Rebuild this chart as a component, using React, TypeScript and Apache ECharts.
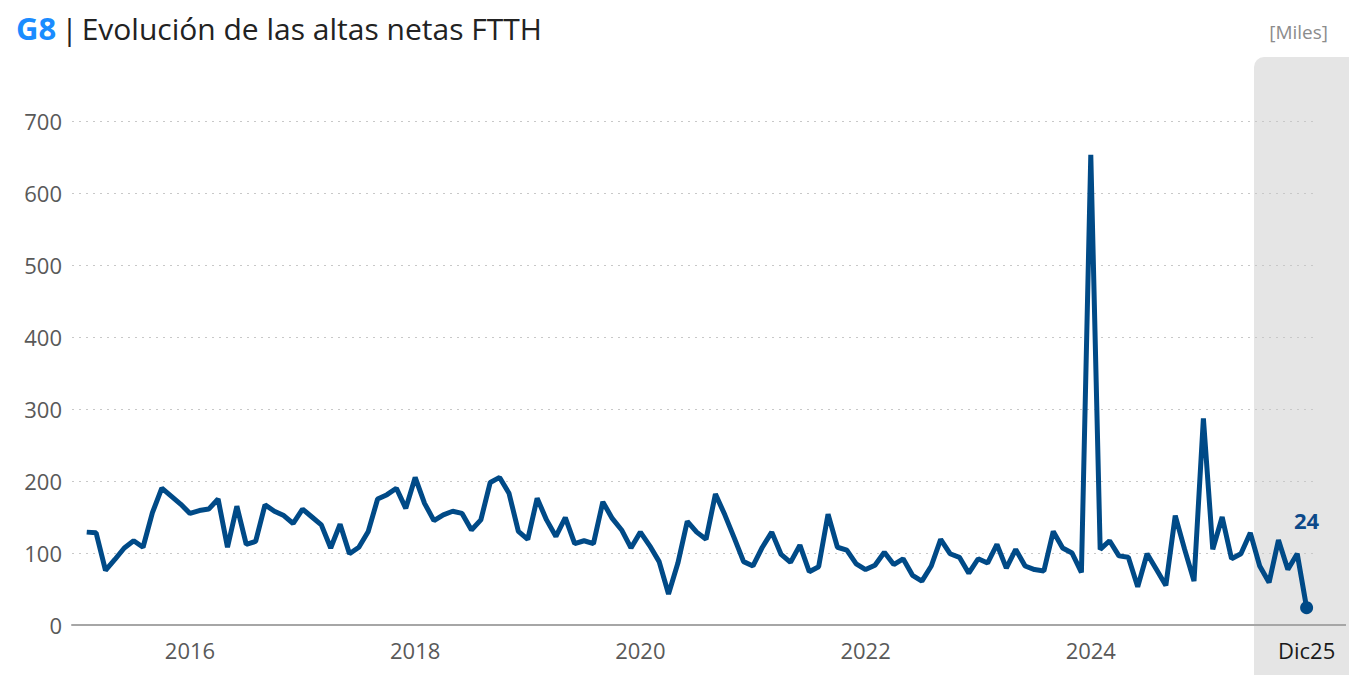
import React, { useEffect, useRef } from "react";
import * as echarts from "echarts";

// Monthly net adds FTTH (thousands), Feb 2015 .. Dec 2025
const startYear = 2015;
const startMonth = 2; // February
const values: number[] = [
  129, 128, 76, 91, 107, 117, 108, 156, 190, 179, 168, 155, 159, 161, 175, 108, 165, 112, 116, 167, 158, 152, 141, 161, 150, 139, 107,
  140, 99, 108, 130, 175, 181, 190, 162, 205, 169, 145, 153, 158, 155, 132, 146, 198, 205, 183, 130, 119, 176, 146, 123,
  149, 113, 117, 113, 171, 148, 132, 107, 129, 110, 88, 43, 86, 144, 129, 119, 182, 153, 121, 88, 82, 108, 129, 98, 87,
  111, 74, 81, 154, 108, 104, 85, 77, 83, 101, 84, 92, 69, 61, 82, 119, 99, 94, 72, 92, 86, 112, 79, 105, 82, 77,
  75, 130, 107, 100, 73, 653, 105, 117, 96, 94, 53, 99, 77, 55, 152, 105, 61, 287, 105, 150, 92, 99, 128, 82, 59, 118, 77, 99, 24,
];
const xTickLabels = ["2016", "2018", "2020", "2022", "2024", "Dic25"];
const yTicks = [0, 100, 200, 300, 400, 500, 600, 700];

function monthIndexOfLabel(label: string): number {
  if (label.startsWith("Dic")) {
    const yr = 2000 + parseInt(label.slice(3), 10);
    return (yr - startYear) * 12 + (12 - startMonth);
  }
  const yr = parseInt(label, 10);
  return (yr - startYear) * 12 + (1 - startMonth);
}

export default function App() {
  const ref = useRef<HTMLDivElement>(null);
  useEffect(() => {
    if (!ref.current) return;
    const chart = echarts.init(ref.current, undefined, { renderer: "svg" });
    const lineData = values.map((v, i) => [i, v]);
    const lastIdx = values.length - 1;
    const tickIdx = xTickLabels.map(monthIndexOfLabel);
    const labelByIdx: Record<number, string> = {};
    tickIdx.forEach((t, k) => (labelByIdx[t] = xTickLabels[k]));

    chart.setOption({
      animation: false,
      backgroundColor: "#ffffff",
      textStyle: { fontFamily: "'Open Sans', 'Noto Sans', sans-serif" },
      title: [
        {
          left: 11,
          top: 3,
          text: "{g|G8}{b||}{t|Evolución de las altas netas FTTH}",
          textStyle: {
            fontWeight: "normal",
            rich: {
              g: { fontSize: 31, fontWeight: "bold", color: "#1a8cff", fontFamily: "'Open Sans', sans-serif", lineHeight: 40 },
              b: { fontSize: 30, fontWeight: "normal", color: "#222222", fontFamily: "'Open Sans', sans-serif", lineHeight: 40, padding: [0, 4, 0, 5] },
              t: { fontSize: 30, fontWeight: "normal", color: "#222222", fontFamily: "'Open Sans', sans-serif", lineHeight: 40 },
            },
          },
        },
        {
          right: 16,
          top: 17,
          text: "[Miles]",
          textStyle: { fontSize: 19, fontWeight: "normal", color: "#8c8c8c", fontFamily: "'Open Sans', sans-serif" },
        },
      ],
      graphic: [
        {
          type: "rect",
          z: -10,
          shape: { x: 1254, y: 57, width: 100, height: 630, r: [10, 0, 0, 0] },
          style: { fill: "#e5e5e5" },
        },
        {
          type: "line",
          z: 5,
          shape: { x1: 1316, y1: 625, x2: 1346, y2: 625 },
          style: { stroke: "#a6a6a6", lineWidth: 2 },
        },
      ],
      grid: { left: 72, right: 33, top: 121, bottom: 50, containLabel: false },
      xAxis: {
        type: "value",
        min: -1.57,
        max: 131,
        axisLine: { show: true, onZero: false, lineStyle: { color: "#a6a6a6", width: 2 } },
        axisTick: { show: false },
        splitLine: { show: false },
        axisLabel: {
          customValues: tickIdx,
          margin: 14,
          fontSize: 22,
          color: "#595959",
          formatter: (v: number) => {
            const s = labelByIdx[Math.round(v)] ?? "";
            return s.startsWith("Dic") ? `{d|${s}}` : s;
          },
          rich: { d: { fontSize: 22, color: "#1a1a1a" } },
        },
      },
      yAxis: {
        type: "value",
        min: yTicks[0],
        max: yTicks[yTicks.length - 1],
        interval: 100,
        axisLine: { show: false },
        axisTick: { show: false },
        axisLabel: { fontSize: 22, color: "#595959", margin: 10 },
        splitLine: { show: true, lineStyle: { color: "#c8c8c8", type: [2, 5], width: 1 } },
      },
      series: [
        {
          type: "line",
          data: lineData,
          showSymbol: false,
          lineStyle: { color: "#004a87", width: 5 },
          itemStyle: { color: "#004a87" },
          z: 3,
        },
        {
          type: "scatter",
          data: [[lastIdx, values[lastIdx]]],
          symbol: "circle",
          symbolSize: 13,
          itemStyle: { color: "#004a87", opacity: 1 },
          z: 4,
          label: {
            show: true,
            position: "top",
            distance: 70,
            formatter: () => String(values[lastIdx]),
            fontSize: 22,
            fontWeight: "bold",
            color: "#0d4a8a",
            opacity: 1,
          },
        },
      ],
    });
    return () => chart.dispose();
  }, []);
  return <div ref={ref} style={{ position: "absolute", left: 0, top: 0, width: 1349, height: 675 }} />;
}
